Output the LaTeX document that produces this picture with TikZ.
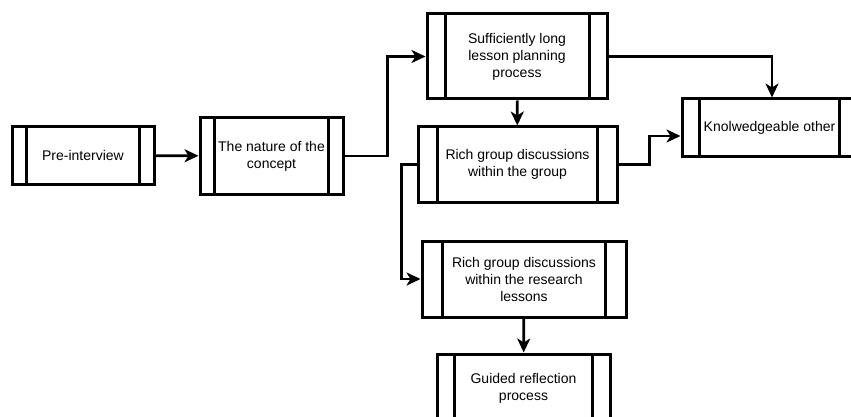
\documentclass[tikz,border=0pt]{standalone}
\usepackage{fontspec}
\setmainfont{Liberation Sans}
\usetikzlibrary{arrows.meta,calc}

\tikzset{
  proc/.style={draw, line width=3pt, align=center, inner sep=0pt,
    font=\fontsize{14}{17}\selectfont,
    path picture={
      \draw[line width=3pt]
        ($(path picture bounding box.north west)!0.1!(path picture bounding box.north east)$) --
        ($(path picture bounding box.south west)!0.1!(path picture bounding box.south east)$)
        ($(path picture bounding box.north west)!0.9!(path picture bounding box.north east)$) --
        ($(path picture bounding box.south west)!0.9!(path picture bounding box.south east)$);
    }},
  flow/.style={line width=2.8pt, -{Stealth[length=14pt,width=13pt,inset=4pt]}}
}

\begin{document}
\begin{tikzpicture}[x=1pt,y=-1pt]
\useasboundingbox (0,0) rectangle (851,417);
\clip (0,0) rectangle (851,417);
\node[proc, minimum width=142pt, minimum height=57pt] (pre) at (83,155.5) {Pre-interview};
\node[proc, minimum width=143pt, minimum height=76pt] (nature) at (271.5,156) {The nature of the\\concept};
%-------------
\node[proc, minimum width=180pt, minimum height=85pt] (suff) at (517,56.5) {Sufficiently long\\lesson planning\\process};
\node[proc, minimum width=199pt, minimum height=75pt] (rich) at (517.5,164.5) {Rich group discussions\\within the group};
\node[proc, minimum width=175pt, minimum height=57pt] (know) at (769.5,127.5) {Knolwedgeable other};
%-------------
\node[proc, minimum width=204pt, minimum height=76pt] (research) at (524,279) {Rich group discussions\\within the research\\lessons};
\node[proc, minimum width=173pt, minimum height=68pt] (guided) at (523.5,388) {Guided reflection\\process};
%-------------
\foreach \from/\to in {pre/nature,suff/rich,research/guided}
\draw[flow] (\from) -- (\to);
\draw[flow] (nature.east) -- ++(43,0) |- (suff.west);
\draw[flow] (suff.east) -| ([xshift=2.5pt]know.north);
\draw[flow] (rich.east) -- ++(31,0) |- ([yshift=-8.5pt]know.west);
\draw[flow] (rich.west) -- ++(-15,0) |- (research.west);
\end{tikzpicture}
\end{document}
